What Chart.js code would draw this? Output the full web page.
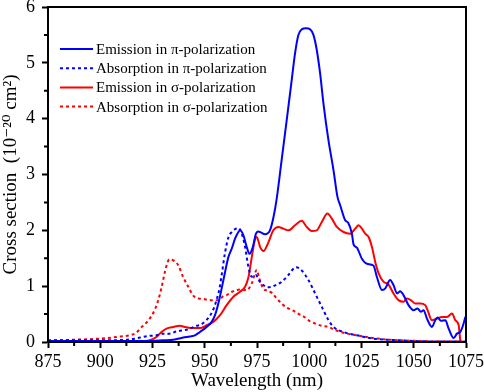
<!DOCTYPE html>
<html>
<head>
<meta charset="utf-8">
<script src="https://cdn.jsdelivr.net/npm/chart.js@4.4.1/dist/chart.umd.min.js"></script>
<style>
  html, body { margin: 0; padding: 0; background: #fff; }
  #wrap { width: 484px; height: 392px; }
</style>
</head>
<body>
<div id="wrap"><canvas id="chart"></canvas></div>
<script>
// Emission in pi-polarization
const emPiNm = [875, 900, 925, 930, 935, 939.7, 942.9, 945.3, 947.7, 950.9, 953.3, 954.9, 956.5, 958.1, 959.7, 961.3, 962.9, 964.5, 966.1, 966.9,
  968.5, 970.1, 971.4, 973, 974.5, 975.6, 977, 978.8, 981.2, 982.8, 984.4, 986.8, 989.2, 991.6, 993.2, 994.8, 996.4, 998.5, 1000.4, 1002,
  1003.6, 1005.2, 1006.8, 1009.2, 1011.6, 1013.5, 1014.8, 1017.2, 1018.7, 1020.4, 1021.2, 1022.8, 1025.2, 1027.6, 1030.7, 1032.4, 1034.8, 1036.4, 1038.7, 1040.3,
  1042, 1043.5, 1045.1, 1047.5, 1049.9, 1051.8, 1053.4, 1054.7, 1056.3, 1058.7, 1060.3, 1061.4, 1063, 1065.1, 1066.7, 1069.1, 1070.7, 1072.3, 1073.6, 1074.7];
const emPiVal = [0.02, 0.02, 0.02, 0.03, 0.04, 0.08, 0.10, 0.12, 0.18, 0.27, 0.36, 0.48, 0.69, 0.96, 1.25, 1.52, 1.67, 1.85, 1.97, 2.00,
  1.91, 1.70, 1.58, 1.70, 1.94, 1.98, 1.96, 1.93, 2.00, 2.22, 2.56, 3.26, 3.97, 4.69, 5.17, 5.50, 5.60, 5.62, 5.60, 5.50,
  5.23, 4.81, 4.27, 3.61, 3.08, 2.60, 2.45, 2.18, 2.13, 1.94, 1.75, 1.69, 1.49, 1.40, 1.37, 1.16, 0.93, 0.96, 1.11, 1.02,
  0.87, 0.91, 0.84, 0.66, 0.57, 0.60, 0.54, 0.57, 0.42, 0.27, 0.39, 0.44, 0.38, 0.39, 0.24, 0.07, 0.15, 0.18, 0.30, 0.45];

// Absorption in pi-polarization
const abPiNm = [875, 900, 912, 916.5, 919, 923.7, 926.9, 930.1, 933.3, 936.5, 941.3, 946.1, 948, 950.5, 952.5, 954.5, 956, 957, 958.1, 959.7,
  961.3, 962.9, 964.5, 966.1, 967.7, 969.3, 970.9, 972.5, 974.5, 976, 978, 980, 982.1, 984, 986.1, 988, 990, 993.7, 996.4, 999.6,
  1002.8, 1006, 1009.2, 1011.6, 1016.4, 1022.8, 1030.7, 1043.5, 1060, 1075];
const abPiVal = [0.03, 0.03, 0.04, 0.06, 0.08, 0.11, 0.12, 0.15, 0.15, 0.19, 0.22, 0.29, 0.31, 0.38, 0.47, 0.62, 0.80, 0.95, 1.20, 1.60,
  1.87, 1.97, 2.02, 2.04, 1.94, 1.70, 1.34, 1.17, 1.20, 1.10, 1.02, 0.98, 0.99, 1.02, 1.06, 1.12, 1.20, 1.34, 1.28, 1.11,
  0.87, 0.63, 0.39, 0.27, 0.18, 0.12, 0.06, 0.03, 0.01, 0.01];

// Emission in sigma-polarization
const emSigNm = [875, 900, 915, 920, 923.7, 926.9, 929.3, 931.7, 935, 938.1, 940.5, 944.5, 947.7, 950.9, 954.1, 957.3, 960.5, 963.7, 966.9, 969.3,
  970.9, 972.5, 974, 974.9, 976.5, 978.1, 980.5, 982.8, 985.2, 987.6, 990, 993.2, 996.4, 998.8, 1001.2, 1003.6, 1006, 1008.7, 1010.8, 1013.2,
  1016.4, 1019.6, 1022, 1023.6, 1025.2, 1026.8, 1028.4, 1030, 1031.6, 1033.2, 1035.5, 1037.9, 1040.3, 1042.7, 1045.1, 1046.7, 1048.6, 1050.7, 1053.1, 1055.5,
  1056.6, 1058.7, 1061.1, 1063.5, 1065.9, 1068.3, 1069.9, 1071.5, 1072.3, 1073, 1075];
const emSigVal = [0, 0, 0.01, 0.01, 0.03, 0.09, 0.18, 0.24, 0.27, 0.29, 0.27, 0.25, 0.25, 0.30, 0.36, 0.48, 0.66, 0.81, 0.90, 0.99,
  1.16, 1.52, 1.83, 1.88, 1.70, 1.63, 1.79, 2.00, 2.06, 2.03, 2.00, 2.09, 2.17, 2.06, 1.99, 2.00, 2.15, 2.30, 2.21, 2.06,
  1.97, 1.94, 2.03, 2.09, 2.03, 1.94, 1.88, 1.70, 1.43, 1.23, 1.08, 1.03, 0.87, 0.75, 0.72, 0.78, 0.75, 0.69, 0.69, 0.66,
  0.57, 0.39, 0.42, 0.45, 0.45, 0.51, 0.39, 0.30, 0.03, 0, 0];

// Absorption in sigma-polarization
const abSigNm = [875, 887, 895, 903, 910, 914, 917.4, 919, 920.5, 923.3, 926, 927.5, 929.3, 930.9, 932, 933, 935, 936.5, 937.5, 939.7,
  942.1, 944.5, 947, 949.3, 952.5, 956.5, 958.9, 960.5, 963, 966.9, 970.1, 972.5, 974.9, 976, 978.1, 980, 982.1, 984, 986.8, 989,
  992.4, 995, 997.2, 1000.4, 1003.6, 1006, 1009.2, 1012, 1014.8, 1019.6, 1022.8, 1026, 1030.8, 1038.7, 1051.5, 1075];
const abSigVal = [0.02, 0.04, 0.05, 0.07, 0.10, 0.12, 0.17, 0.24, 0.29, 0.40, 0.57, 0.72, 0.97, 1.25, 1.40, 1.48, 1.46, 1.42, 1.36, 1.16,
  0.99, 0.83, 0.78, 0.77, 0.75, 0.75, 0.82, 0.84, 0.90, 0.94, 0.93, 1.05, 1.29, 1.15, 0.95, 0.92, 0.88, 0.80, 0.69, 0.62,
  0.56, 0.50, 0.46, 0.37, 0.32, 0.29, 0.27, 0.22, 0.18, 0.14, 0.12, 0.10, 0.07, 0.04, 0.02, 0.01];

const seriesLabels = [
  'Emission in \u03C0-polarization',
  'Absorption in \u03C0-polarization',
  'Emission in \u03C3-polarization',
  'Absorption in \u03C3-polarization'
];
const xMajorTicks = [875, 900, 925, 950, 975, 1000, 1025, 1050, 1075];
const yMajorTicks = [0, 1, 2, 3, 4, 5, 6];

const toPoints = (xs, ys) => xs.map((x, i) => ({ x: x, y: ys[i] }));
const SERIF = "'Liberation Serif', 'DejaVu Serif', serif";

// frame, minor ticks and the in-plot legend
const extras = {
  id: 'extras',
  afterDraw(chart) {
    const { ctx, chartArea: a } = chart;
    const xs = chart.scales.x, ys = chart.scales.y;
    ctx.save();
    ctx.strokeStyle = '#000';
    ctx.lineWidth = 2;
    ctx.strokeRect(a.left, a.top, a.right - a.left, a.bottom - a.top);

    ctx.beginPath();
    for (let i = 0; i < xMajorTicks.length - 1; i++) {
      const px = xs.getPixelForValue((xMajorTicks[i] + xMajorTicks[i + 1]) / 2);
      ctx.moveTo(px, a.bottom);
      ctx.lineTo(px, a.bottom + 4);
    }
    for (let i = 0; i < yMajorTicks.length - 1; i++) {
      const py = ys.getPixelForValue((yMajorTicks[i] + yMajorTicks[i + 1]) / 2);
      ctx.moveTo(a.left, py);
      ctx.lineTo(a.left - 4, py);
    }
    ctx.stroke();

    ctx.font = '15px ' + SERIF;
    ctx.textBaseline = 'middle';
    ctx.fillStyle = '#000';
    chart.data.datasets.forEach((ds, i) => {
      const ly = a.top + 42 + i * 19.2;
      ctx.strokeStyle = ds.borderColor;
      ctx.lineWidth = 2;
      ctx.setLineDash(ds.borderDash || []);
      ctx.beginPath();
      ctx.moveTo(a.left + 12, ly);
      ctx.lineTo(a.left + 45, ly);
      ctx.stroke();
      ctx.fillText(ds.label, a.left + 48, ly + 1);
    });
    ctx.restore();
  }
};

new Chart(document.getElementById('chart'), {
  type: 'line',
  data: {
    datasets: [
      { label: seriesLabels[0], data: toPoints(emPiNm, emPiVal), borderColor: '#0000ff', borderWidth: 2 },
      { label: seriesLabels[1], data: toPoints(abPiNm, abPiVal), borderColor: '#0000ff', borderWidth: 2, borderDash: [3, 3] },
      { label: seriesLabels[2], data: toPoints(emSigNm, emSigVal), borderColor: '#ff0000', borderWidth: 2 },
      { label: seriesLabels[3], data: toPoints(abSigNm, abSigVal), borderColor: '#ff0000', borderWidth: 2, borderDash: [3, 3] }
    ]
  },
  options: {
    responsive: true,
    maintainAspectRatio: false,
    animation: false,
    events: [],
    layout: { padding: { top: 7, right: 18, left: 0, bottom: 0 } },
    elements: {
      point: { radius: 0 },
      line: { cubicInterpolationMode: 'monotone', fill: false }
    },
    plugins: {
      legend: { display: false },
      tooltip: { enabled: false }
    },
    scales: {
      x: {
        type: 'linear',
        min: 875,
        max: 1075,
        afterFit: s => { s.height = 50; s.paddingLeft = 0; s.paddingRight = 0; },
        ticks: {
          stepSize: 25,
          color: '#000',
          padding: 3,
          font: { family: SERIF, size: 18 },
          maxRotation: 0,
          callback: v => xMajorTicks.includes(v) ? String(v) : ''
        },
        grid: { drawOnChartArea: false, drawTicks: true, tickLength: 6, tickWidth: 2, tickColor: '#000' },
        border: { display: true, color: '#000', width: 2 },
        title: {
          display: true,
          text: 'Wavelength (nm)',
          color: '#000',
          font: { family: SERIF, size: 19 },
          padding: { top: 0, bottom: 0 }
        }
      },
      y: {
        min: 0,
        max: 6,
        afterFit: s => { s.width = 48; s.paddingTop = 0; s.paddingBottom = 0; },
        ticks: {
          stepSize: 1,
          color: '#000',
          padding: 7,
          font: { family: SERIF, size: 18 },
          callback: v => yMajorTicks.includes(v) ? String(v) : ''
        },
        grid: { drawOnChartArea: false, drawTicks: true, tickLength: 6, tickWidth: 2, tickColor: '#000' },
        border: { display: true, color: '#000', width: 2 },
        title: {
          display: true,
          text: 'Cross section  (10\u207B\u00B2\u2070 cm\u00B2)',
          color: '#000',
          font: { family: SERIF, size: 19 },
          padding: { top: 0, bottom: 0 }
        }
      }
    }
  },
  plugins: [extras]
});
</script>
</body>
</html>
